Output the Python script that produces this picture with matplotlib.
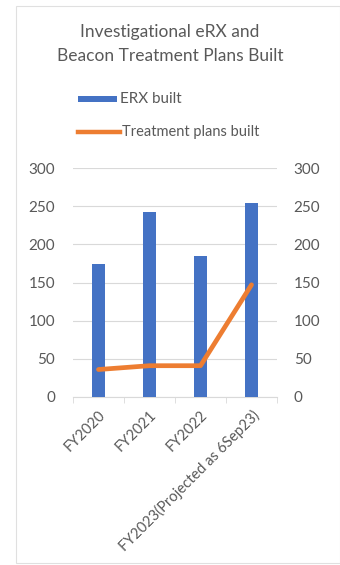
import matplotlib
matplotlib.use("Agg")
import matplotlib.pyplot as plt
from matplotlib.patches import Rectangle
from matplotlib.lines import Line2D

categories = ["FY2020", "FY2021", "FY2022", "FY2023(Projected as 6Sep23)"]
erx_built = [174, 243, 185, 254]
plans_built = [36, 41, 41, 147]
yticks = [0, 50, 100, 150, 200, 250, 300]

BLUE = "#4472C4"
ORANGE = "#ED7D31"
TXT = "#595959"
FONT = ["Lato", "DejaVu Sans"]
plt.rcParams["font.family"] = FONT

W, H = 340, 565
fig = plt.figure(figsize=(W / 100, H / 100), dpi=100)
fig.patch.set_facecolor("white")

# chart area frame
fig.add_artist(Rectangle((16 / W, 0.004), 1 - 16 / W, 1 - 0.015, transform=fig.transFigure,
                         fill=False, edgecolor="#E0E0E0", linewidth=0.8))

left, right = 73 / W, 277 / W
bottom, top = 1 - 397 / H, 1 - 168 / H
ax = fig.add_axes([left, bottom, right - left, top - bottom])
ax2 = ax.twinx()

x = list(range(len(categories)))
ax.bar(x, erx_built, width=0.27, color=BLUE, zorder=3)
ax2.plot(x, plans_built, color=ORANGE, linewidth=3.4, solid_capstyle="round", zorder=4)

for a in (ax, ax2):
    a.set_ylim(0, 300)
    a.set_yticks(yticks)
    a.set_xlim(-0.5, len(categories) - 0.5)
    for s in a.spines.values():
        s.set_visible(False)
    a.tick_params(axis="y", length=0, colors=TXT, labelsize=11)
ax.tick_params(axis="y", pad=13)
ax2.tick_params(axis="y", pad=12)
ax.spines["bottom"].set_visible(True)
ax.spines["bottom"].set_color("#D9D9D9")
ax.grid(axis="y", color="#D9D9D9", linewidth=0.8, zorder=0)
ax.set_axisbelow(True)
ax2.set_zorder(ax.get_zorder() + 1)
ax2.patch.set_visible(False)

ax.set_xticks(x)
ax.set_xticklabels(categories, rotation=45, ha="right", rotation_mode="anchor",
                   color=TXT, fontsize=10.5)
ax.tick_params(axis="x", length=0, pad=8)
ax.set_xticks([i + 0.5 for i in range(-1, len(categories))], minor=True)
ax.tick_params(axis="x", which="minor", length=4, color="#D9D9D9")

fig.text(0.5, 1 - 32 / H, "Investigational eRX and", ha="center", va="center",
         fontsize=12.5, color=TXT)
fig.text(0.5, 1 - 56 / H, "Beacon Treatment Plans Built", ha="center", va="center",
         fontsize=12.5, color=TXT)

# legend
fig.add_artist(Rectangle((78 / W, 1 - 102 / H), 39 / W, 6 / H, transform=fig.transFigure,
                         facecolor=BLUE, edgecolor="none"))
fig.text(120 / W, 1 - 99 / H, "ERX built", ha="left", va="center", fontsize=11, color=TXT)
fig.add_artist(Line2D([78 / W, 120 / W], [1 - 132 / H, 1 - 132 / H], transform=fig.transFigure,
                      color=ORANGE, linewidth=3.2))
fig.text(122 / W, 1 - 132 / H, "Treatment plans built", ha="left", va="center",
         fontsize=10.5, color=TXT)

fig.savefig("out.png", dpi=100)
